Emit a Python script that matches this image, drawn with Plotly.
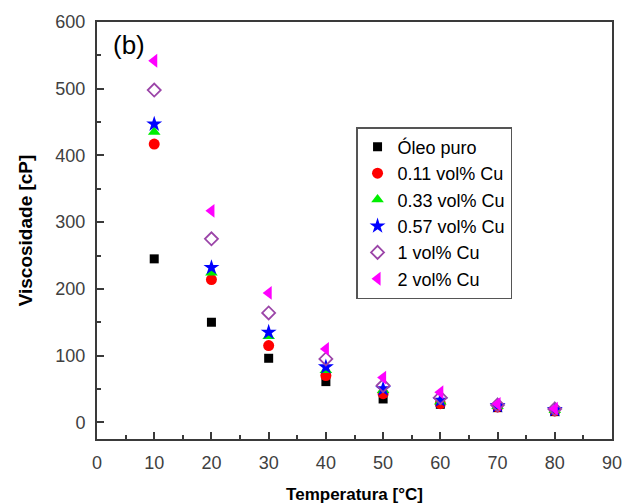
import plotly.graph_objects as go

# Viscosity of oil-based Cu nanofluids vs temperature
temperatura = [10, 20, 30, 40, 50, 60, 70, 80]

oleo_puro = [245, 150, 96, 61, 35, 27, 22, 16]
cu_011 = [417, 214, 115, 70, 43, 28, 23, 17]
cu_033 = [435, 224, 129, 78, 48, 31, 24, 18]
cu_057 = [447, 232, 135, 83, 50, 33, 25, 19]
cu_1 = [498, 275, 164, 95, 55, 37, 26, 20]
cu_2 = [542, 317, 194, 110, 67, 45, 27.5, 20.5]

series = [
    ("Óleo puro", oleo_puro, dict(symbol="square", size=9, color="#000000")),
    ("0.11 vol% Cu", cu_011, dict(symbol="circle", size=11, color="#ff0000")),
    ("0.33 vol% Cu", cu_033, dict(symbol="triangle-up", size=11, color="#00ee00")),
    ("0.57 vol% Cu", cu_057, dict(symbol="star", size=12, color="#0000ff")),
    ("1 vol% Cu", cu_1, dict(symbol="diamond-open", size=10, color="#9b45a8",
                             line=dict(width=1.8, color="#9b45a8"))),
    ("2 vol% Cu", cu_2, dict(symbol="triangle-left", size=12, color="#ff00ff")),
]

fig = go.Figure()
for name, vals, marker in series:
    fig.add_trace(go.Scatter(x=temperatura, y=vals, mode="markers", name=name,
                             marker=marker))

axis_common = dict(
    showline=True, linecolor="#3a3a3a", linewidth=2, mirror=True,
    ticks="inside", ticklen=7, tickwidth=1.5, tickcolor="#3a3a3a",
    showgrid=False, zeroline=False, automargin=False,
    tickfont=dict(family="Liberation Sans, Arial", size=18, color="#404040"),
)

fig.update_xaxes(
    range=[0, 90], dtick=10, tick0=0,
    minor=dict(ticks="inside", ticklen=4, dtick=5, tickcolor="#3a3a3a", tickwidth=1.5),
    ticklabelstandoff=6,
    title=dict(text="<b>Temperatura [°C]</b>", standoff=22,
               font=dict(family="Liberation Sans, Arial", size=17, color="#000000")),
    **axis_common,
)
fig.update_yaxes(
    range=[-25, 600], dtick=100, tick0=0,
    minor=dict(ticks="inside", ticklen=4, dtick=50, tickcolor="#3a3a3a", tickwidth=1.5),
    ticklabelstandoff=6,
    title=dict(text="<b>Viscosidade [cP]</b>", standoff=18,
               font=dict(family="Liberation Sans, Arial", size=19, color="#000000")),
    **axis_common,
)

fig.add_annotation(text="(b)", xref="paper", yref="paper", x=0.028, y=0.985,
                   xanchor="left", yanchor="top", showarrow=False,
                   font=dict(family="Liberation Sans, Arial", size=26, color="#000000"))

fig.update_layout(
    width=624, height=504,
    margin=dict(l=97, r=12, t=22, b=65),
    paper_bgcolor="white", plot_bgcolor="white",
    legend=dict(x=0.503, y=0.748, xanchor="left", yanchor="top",
                bordercolor="#555555", borderwidth=1.5, bgcolor="white",
                font=dict(family="Liberation Sans, Arial", size=18, color="#000000")),
    showlegend=True,
)

fig.write_html("out.html")
